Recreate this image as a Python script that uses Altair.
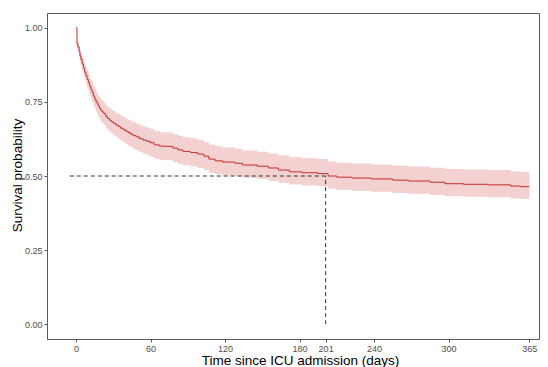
import altair as alt
import pandas as pd

# Kaplan-Meier estimate
times = [0, 0.8, 1.5, 2.5, 3.2, 4, 5, 6, 7, 8, 9, 10, 11, 12, 13, 14, 15, 16, 17, 18,
         19, 20, 21, 22.5, 24, 25.5, 27, 28.5, 30, 32, 34, 36, 38, 40, 42, 44, 46, 48.5,
         51, 54, 57, 60, 63, 67, 72, 78, 82, 86, 92, 98, 103, 107, 112, 118, 128, 134,
         146, 155, 163, 172, 182, 195, 203, 210, 222, 238, 255, 268, 285, 297, 312, 332,
         350, 358, 365]
surv = [1.000, 0.945, 0.935, 0.920, 0.905, 0.893, 0.878, 0.864, 0.850, 0.838, 0.826,
        0.815, 0.803, 0.792, 0.781, 0.770, 0.760, 0.752, 0.744, 0.736, 0.728, 0.722,
        0.716, 0.710, 0.700, 0.694, 0.688, 0.683, 0.678, 0.672, 0.667, 0.661, 0.656,
        0.651, 0.646, 0.641, 0.636, 0.632, 0.626, 0.621, 0.617, 0.612, 0.605, 0.601,
        0.600, 0.594, 0.588, 0.583, 0.579, 0.574, 0.567, 0.557, 0.551, 0.547, 0.543,
        0.537, 0.533, 0.527, 0.520, 0.514, 0.511, 0.508, 0.500, 0.496, 0.493, 0.490,
        0.486, 0.483, 0.479, 0.474, 0.472, 0.470, 0.466, 0.464, 0.464]
lower = [1.000, 0.930, 0.918, 0.901, 0.884, 0.871, 0.854, 0.839, 0.823, 0.810, 0.797,
         0.785, 0.772, 0.760, 0.748, 0.736, 0.726, 0.717, 0.708, 0.700, 0.691, 0.685,
         0.678, 0.672, 0.661, 0.655, 0.648, 0.643, 0.637, 0.631, 0.625, 0.619, 0.613,
         0.608, 0.602, 0.597, 0.591, 0.587, 0.580, 0.575, 0.570, 0.565, 0.558, 0.554,
         0.553, 0.547, 0.541, 0.536, 0.532, 0.527, 0.520, 0.511, 0.506, 0.502, 0.499,
         0.494, 0.490, 0.484, 0.477, 0.471, 0.468, 0.465, 0.457, 0.453, 0.450, 0.447,
         0.443, 0.440, 0.436, 0.432, 0.430, 0.428, 0.424, 0.422, 0.422]
upper = [1.000, 0.960, 0.951, 0.938, 0.925, 0.914, 0.901, 0.888, 0.876, 0.865, 0.854,
         0.844, 0.833, 0.823, 0.813, 0.803, 0.794, 0.786, 0.779, 0.772, 0.765, 0.759,
         0.753, 0.748, 0.739, 0.733, 0.728, 0.723, 0.719, 0.713, 0.709, 0.703, 0.699,
         0.694, 0.690, 0.685, 0.681, 0.677, 0.672, 0.667, 0.663, 0.659, 0.652, 0.648,
         0.647, 0.641, 0.636, 0.631, 0.627, 0.622, 0.615, 0.606, 0.600, 0.596, 0.592,
         0.586, 0.582, 0.576, 0.569, 0.563, 0.560, 0.557, 0.549, 0.545, 0.542, 0.539,
         0.535, 0.532, 0.528, 0.524, 0.522, 0.520, 0.516, 0.514, 0.514]

x_ticks = [0, 60, 120, 180, 201, 240, 300, 365]
y_ticks = [0.0, 0.25, 0.5, 0.75, 1.0]
median_time = [201]
median_surv = [0.5]
hline_start = [-5]
vline_bottom = [0.0]

df = pd.DataFrame({"time": times, "surv": surv, "lower": lower, "upper": upper})
hdf = pd.DataFrame({"x": hline_start, "x2": median_time, "y": median_surv})
vdf = pd.DataFrame({"x": median_time, "y": vline_bottom, "y2": median_surv})

RED = "#c62f2b"
xscale = alt.Scale(domain=[-23.35, 372.8], nice=False, zero=False)
yscale = alt.Scale(domain=[-0.05, 1.05], nice=False, zero=False)

xaxis = alt.Axis(values=x_ticks, title="Time since ICU admission (days)", grid=False,
                 format="d", titleX=253, titleY=25, titleBaseline="alphabetic",
                 titleAnchor="middle", titleAlign="center")
yaxis = alt.Axis(values=y_ticks, title="Survival probability", grid=False, format=".2f",
                 titleX=-30, titleY=162, titleAngle=270, titleBaseline="middle",
                 titleAlign="center")

band = alt.Chart(df).mark_area(interpolate="step-after", color=RED, opacity=0.22).encode(
    x=alt.X("time:Q", scale=xscale, axis=xaxis),
    y=alt.Y("lower:Q", scale=yscale, axis=yaxis),
    y2="upper:Q",
)
line = alt.Chart(df).mark_line(interpolate="step-after", color=RED, strokeWidth=1).encode(
    x=alt.X("time:Q", scale=xscale, axis=xaxis),
    y=alt.Y("surv:Q", scale=yscale, axis=yaxis),
)
hline = alt.Chart(hdf).mark_rule(color="#333333", strokeWidth=1, strokeDash=[4, 3]).encode(
    x=alt.X("x:Q", scale=xscale, axis=xaxis),
    x2="x2:Q",
    y=alt.Y("y:Q", scale=yscale, axis=yaxis),
)
vline = alt.Chart(vdf).mark_rule(color="#333333", strokeWidth=1, strokeDash=[4, 3]).encode(
    x=alt.X("x:Q", scale=xscale, axis=xaxis),
    y=alt.Y("y:Q", scale=yscale, axis=yaxis),
    y2="y2:Q",
)

chart = alt.layer(band, line, hline, vline).properties(
    width=492,
    height=326,
    padding={"left": 39, "top": 5, "right": 1, "bottom": 28},
    autosize=alt.AutoSizeParams(type="none"),
    background="white",
).configure_view(
    stroke="#595959", strokeWidth=1
).configure_axis(
    domainColor="#595959",
    domainWidth=1,
    tickColor="#595959",
    tickSize=3,
    labelPadding=2,
    labelFont="Liberation Sans",
    labelFontSize=9,
    labelColor="#4d4d4d",
    titleFont="Liberation Sans",
    titleFontSize=13.5,
    titleFontWeight="normal",
    titleColor="black",
)

chart.save("out.html", embed_options={"renderer": "svg", "actions": False})
